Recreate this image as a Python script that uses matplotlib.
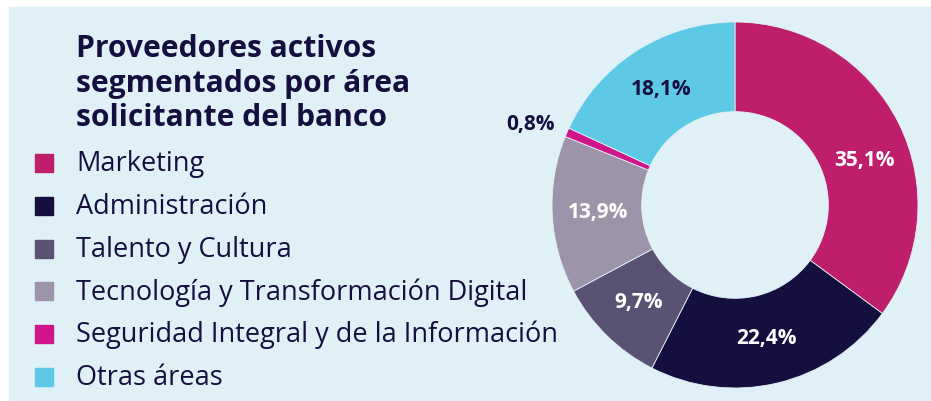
import numpy as np
import matplotlib
matplotlib.use("Agg")
import matplotlib.pyplot as plt
from matplotlib.patches import Rectangle

# data
areas = ["Marketing", "Administración", "Talento y Cultura",
         "Tecnología y Transformación Digital",
         "Seguridad Integral y de la Información", "Otras áreas"]
shares = [35.1, 22.4, 9.7, 13.9, 0.8, 18.1]
colors = ["#bf1e6a", "#150f40", "#5a5272", "#9d94aa", "#d0158a", "#5ec9e4"]
label_colors = ["white", "white", "white", "white", "#150f40", "#150f40"]
title = "Proveedores activos\nsegmentados por área\nsolicitante del banco"

W, H = 931, 401
bg = "#dff1f7"
dark = "#150f40"
plt.rcParams["font.family"] = ["Open Sans", "DejaVu Sans"]

fig = plt.figure(figsize=(W / 100, H / 100), dpi=100)
fig.patch.set_facecolor("white")

# background panel in pixel coords
base = fig.add_axes([0, 0, 1, 1])
base.set_xlim(0, W)
base.set_ylim(H, 0)
base.axis("off")
base.add_patch(Rectangle((9, 7), W - 9, H - 7, color=bg, zorder=0))

base.text(76, 34, title, fontsize=21.6, fontweight="bold", color=dark,
          va="top", ha="left", linespacing=1.2)

# legend
for i, (name, c) in enumerate(zip(areas, colors)):
    y = 163 + i * 42.8
    base.add_patch(Rectangle((35, y - 9), 18, 18, color=c, zorder=2))
    base.text(76, y + 1, name, fontsize=19.5, color=dark, va="center", ha="left")

# donut
R = 183
cx, cy = 735, 205
ax = fig.add_axes([(cx - R) / W, (H - cy - R) / H, 2 * R / W, 2 * R / H])
wedges, _ = ax.pie(shares, colors=colors, startangle=90, counterclock=False,
                   radius=1, wedgeprops=dict(width=0.49, edgecolor=bg, linewidth=0.6))
ax.set_xlim(-1, 1)
ax.set_ylim(-1, 1)
ax.set_aspect("equal")
ax.axis("off")

# small angle tweaks so labels sit like the original
nudge = {0: -8, 4: 2}
for i, (w, v, tc) in enumerate(zip(wedges, shares, label_colors)):
    ang = np.deg2rad((w.theta1 + w.theta2) / 2 + nudge.get(i, 0))
    r = 1.2 if v < 2 else 0.75
    txt = f"{v:.1f}%".replace(".", ",")
    ax.text(r * np.cos(ang), r * np.sin(ang), txt, ha="center", va="center",
            fontsize=15, fontweight="bold", color=tc)

fig.savefig("out.png", dpi=100, facecolor=fig.get_facecolor())
